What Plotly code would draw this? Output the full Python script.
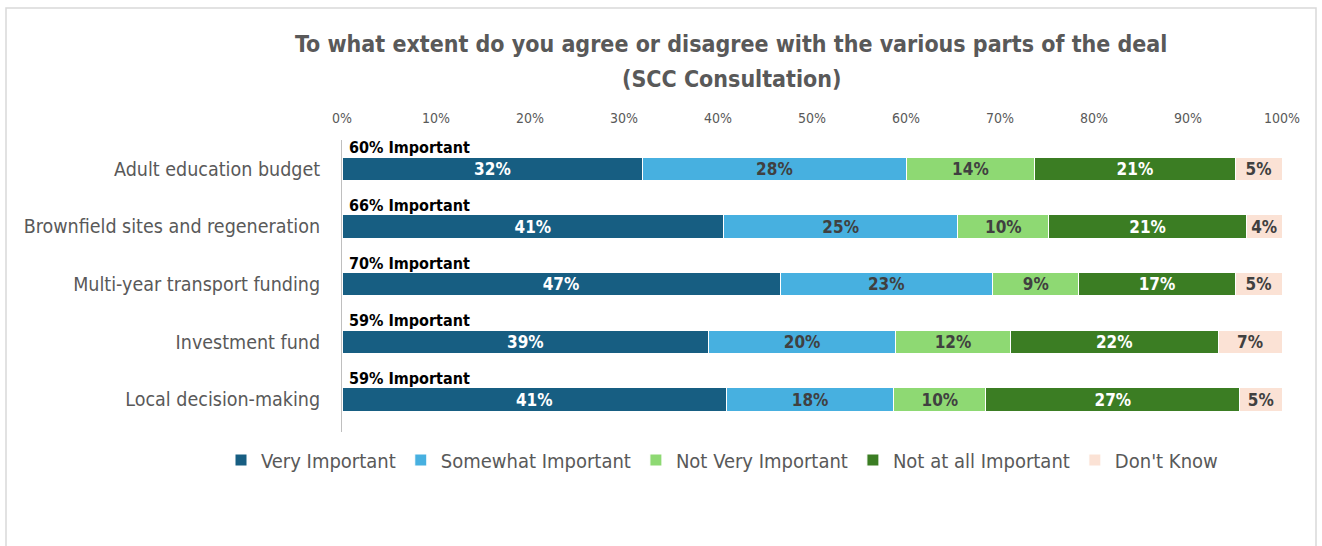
import plotly.graph_objects as go

categories = ["Adult education budget", "Brownfield sites and regeneration",
              "Multi-year transport funding", "Investment fund", "Local decision-making"]
series_names = ["Very Important", "Somewhat Important", "Not Very Important",
                "Not at all Important", "Don't Know"]
very_important = [32.0, 40.6, 46.6, 39.0, 40.9]
somewhat_important = [28.0, 24.9, 22.6, 19.9, 17.8]
not_very_important = [13.7, 9.7, 9.2, 12.2, 9.8]
not_at_all_important = [21.3, 21.0, 16.6, 22.1, 27.0]
dont_know = [5.0, 3.8, 5.0, 6.8, 4.5]
important_labels = ["60% Important", "66% Important", "70% Important",
                    "59% Important", "59% Important"]
tick_vals = [0, 10, 20, 30, 40, 50, 60, 70, 80, 90, 100]
title_lines = ["To what extent do you agree or disagree with the various parts of the deal",
               "(SCC Consultation)"]

colors = ["#175E82", "#47B0E0", "#8ED973", "#3B7D23", "#FBE2D5"]
text_colors = ["#FFFFFF", "#404040", "#404040", "#FFFFFF", "#404040"]
values = [very_important, somewhat_important, not_very_important,
          not_at_all_important, dont_know]

FONT = "DejaVu Sans Condensed, Liberation Sans Narrow, sans-serif"

W, H = 1322, 546
ML, MR, MT, MB = 20, 20, 140, 114
GW = W - ML - MR          # plot-area width in px
GH = H - MT - MB          # plot-area height in px


def px_x(px):
    return (px - ML) / GW


def px_y(py):
    return (H - MB - py) / GH


fig = go.Figure()
for name, vals, col, tcol in zip(series_names, values, colors, text_colors):
    fig.add_trace(go.Bar(
        y=categories, x=vals, name=name, orientation="h",
        marker=dict(color=col, line=dict(color="white", width=1)),
        texttemplate="%{x:.0f}%", textposition="inside",
        insidetextanchor="middle", textangle=0, constraintext="none",
        textfont=dict(color=tcol, size=17, family=FONT, weight="bold"),
        hoverinfo="skip",
    ))

for cat, lab in zip(categories, important_labels):
    fig.add_annotation(x=0, y=cat, xref="x", yref="y", text="<b>" + lab + "</b>",
                       showarrow=False, xanchor="left", yanchor="middle",
                       xshift=5, yshift=21,
                       font=dict(size=16, color="#000000", family=FONT))

# title (two lines)
for line, ypx in zip(title_lines, [44, 79]):
    fig.add_annotation(x=px_x(731), y=px_y(ypx), xref="paper", yref="paper",
                       text="<b>" + line + "</b>", showarrow=False,
                       xanchor="center", yanchor="middle",
                       font=dict(size=23, color="#595959", family=FONT))

# chart frame
fig.add_shape(type="rect", xref="paper", yref="paper",
              x0=px_x(6), x1=px_x(1316), y0=px_y(560), y1=px_y(8),
              line=dict(color="#D9D9D9", width=1.5), layer="below")

fig.update_layout(
    width=W, height=H,
    margin=dict(l=ML, r=MR, t=MT, b=MB, autoexpand=False),
    barmode="stack", bargap=0.59,
    plot_bgcolor="white", paper_bgcolor="white",
    font=dict(family=FONT, color="#595959"),
    xaxis=dict(domain=[px_x(342), px_x(1282)], side="top", range=[0, 100],
               tickvals=tick_vals, ticktext=[f"{v}%" for v in tick_vals],
               showgrid=False, zeroline=False, showline=False, ticks="",
               ticklabelstandoff=13, tickfont=dict(size=14, color="#595959")),
    yaxis=dict(autorange="reversed", showline=True, linecolor="#BFBFBF",
               linewidth=1, ticks="", ticklabelstandoff=17,
               tickfont=dict(size=19.5, color="#595959")),
    legend=dict(orientation="h", x=px_x(722), xanchor="center",
                y=px_y(460), yanchor="middle",
                font=dict(size=20, color="#595959"),
                traceorder="normal", itemwidth=30),
    showlegend=True,
)

fig.write_html("out.html")
